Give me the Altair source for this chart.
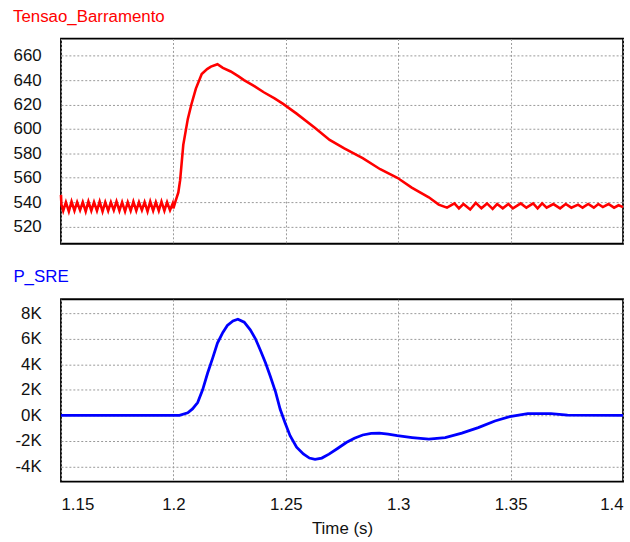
import altair as alt
import pandas as pd

# ---- Data ----
t_v = [1.1500, 1.1502, 1.1510, 1.1522, 1.1535, 1.1547, 1.1560, 1.1572, 1.1585, 1.1597,
       1.1610, 1.1622, 1.1635, 1.1647, 1.1660, 1.1672, 1.1685, 1.1697, 1.1710, 1.1722,
       1.1735, 1.1747, 1.1760, 1.1772, 1.1785, 1.1797, 1.1810, 1.1822, 1.1835, 1.1847,
       1.1860, 1.1872, 1.1885, 1.1897, 1.1910, 1.1922, 1.1935, 1.1947, 1.1960, 1.1972,
       1.1985, 1.1997, 1.2000,
       1.2010, 1.2022, 1.2030, 1.2044, 1.2064, 1.2080, 1.2100, 1.2126, 1.2150, 1.2167,
       1.2196, 1.2220, 1.2255, 1.2290, 1.2314, 1.2360, 1.2402, 1.2450, 1.2488, 1.2548,
       1.2629, 1.2695, 1.2760, 1.2842, 1.2920, 1.2996, 1.3060, 1.3136, 1.3180, 1.3217,
       1.3250, 1.3270, 1.3290, 1.3320, 1.3345, 1.3370, 1.3395, 1.3420, 1.3440, 1.3465,
       1.3490, 1.3510, 1.3545, 1.3570, 1.3600, 1.3620, 1.3640, 1.3660, 1.3690, 1.3720,
       1.3745, 1.3770, 1.3800, 1.3820, 1.3845, 1.3870, 1.3890, 1.3910, 1.3935, 1.3960,
       1.3980, 1.4000]
tensao = [546, 538, 533, 540, 532.5, 540.5, 533, 540, 533.5, 540, 532.5, 540.5, 533, 540,
          533, 540.5, 532.5, 540, 533, 540, 533.5, 540.5, 533, 540, 532.5, 540, 533, 540.5,
          533, 540, 533.5, 540, 532.5, 540.5, 533, 540, 533, 540.5, 533, 540, 533.5, 539, 535,
          541, 548, 558, 587, 608, 620, 633, 645, 649, 651,
          653, 650, 647, 643, 640, 635, 630, 625, 620.5, 612.5,
          601, 591, 584, 576, 567, 560, 552, 544, 538, 535.5,
          539, 535, 538.5, 534, 539.5, 535, 539, 534.5, 538.5, 535,
          538.5, 535, 539, 535.5, 539, 535, 539, 535.5, 538.5, 535,
          538.5, 535.5, 538, 535.5, 538.5, 535.5, 538.5, 536, 538.5, 535.5,
          537.5, 536]

t_p = [1.1500, 1.2027, 1.2064, 1.2085, 1.2108, 1.2130, 1.2152, 1.2175, 1.2196, 1.2220,
       1.2240, 1.2265, 1.2287, 1.2315, 1.2342, 1.2365, 1.2386, 1.2410, 1.2431, 1.2455,
       1.2475, 1.2497, 1.2519, 1.2548, 1.2578, 1.2605, 1.2630, 1.2660, 1.2692, 1.2730,
       1.2769, 1.2805, 1.2842, 1.2880, 1.2916, 1.2955, 1.2996, 1.3062, 1.3136, 1.3209,
       1.3283, 1.3356, 1.3430, 1.3496, 1.3576, 1.3679, 1.3753, 1.4000]
p_sre = [0, 0, 200, 500, 1000, 2000, 3300, 4500, 5660, 6500,
         7040, 7400, 7530, 7300, 6700, 6000, 5140, 4100, 3060, 1800,
         470, -600, -1600, -2500, -3030, -3350, -3450, -3350, -3040, -2600,
         -2130, -1800, -1540, -1420, -1400, -1480, -1600, -1740, -1870, -1740,
         -1400, -960, -440, -100, 130, 130, 20, 0]

x_ticks = [1.15, 1.2, 1.25, 1.3, 1.35, 1.4]
y1_ticks = [520, 540, 560, 580, 600, 620, 640, 660]
y2_ticks = [-4000, -2000, 0, 2000, 4000, 6000, 8000]

df1 = pd.DataFrame({"t": t_v, "v": tensao})
df2 = pd.DataFrame({"t": t_p, "p": p_sre})

FONT = "Liberation Sans"
W = 567

grid_axis = dict(grid=True, gridDash=[2, 2], gridColor="#999999", gridWidth=1,
                 domain=False, ticks=False, labelFont=FONT, labelFontSize=17,
                 labelColor="#111111", titleFont=FONT, titleFontSize=17,
                 titleColor="#111111", titleFontWeight="normal")

xscale = alt.Scale(domain=[1.15, 1.4], nice=False, zero=False)

top = alt.Chart(df1, title=alt.TitleParams(
    "Tensao_Barramento", anchor="start", color="#ff0000", font=FONT,
    fontSize=17, fontWeight="normal", offset=13)).mark_line(
    color="#ff0000", strokeWidth=2.6, interpolate="linear").encode(
    x=alt.X("t:Q", scale=xscale,
            axis=alt.Axis(values=x_ticks, labels=False, title=None, **grid_axis)),
    y=alt.Y("v:Q", scale=alt.Scale(domain=[506, 674], nice=False, zero=False),
            axis=alt.Axis(values=y1_ticks, title=None, labelPadding=20,
                          minExtent=48, maxExtent=48, **grid_axis)),
).properties(width=W, height=207)

bottom = alt.Chart(df2, title=alt.TitleParams(
    "P_SRE", anchor="start", color="#0000ff", font=FONT,
    fontSize=17, fontWeight="normal", offset=13)).mark_line(
    color="#0000ff", strokeWidth=2.8).encode(
    x=alt.X("t:Q", scale=xscale,
            axis=alt.Axis(values=x_ticks, title="Time (s)", labelPadding=15,
                          titlePadding=8, format="~g", labelFlush=True,
                          **grid_axis)),
    y=alt.Y("p:Q", scale=alt.Scale(domain=[-5200, 9100], nice=False, zero=False),
            axis=alt.Axis(values=y2_ticks, title=None, labelPadding=20,
                          labelExpr="(datum.value / 1000) + 'K'",
                          minExtent=48, maxExtent=48, **grid_axis)),
).properties(width=W, height=184)

chart = alt.vconcat(top, bottom, spacing=56, bounds="flush").properties(
    padding={"left": 11.5, "top": 4.5, "right": 0, "bottom": 2}
).configure(
    background="white",
    view=alt.ViewConfig(stroke="#000000", strokeWidth=1.8),
)

chart.save("out.html", embed_options={"renderer": "svg", "actions": False})
